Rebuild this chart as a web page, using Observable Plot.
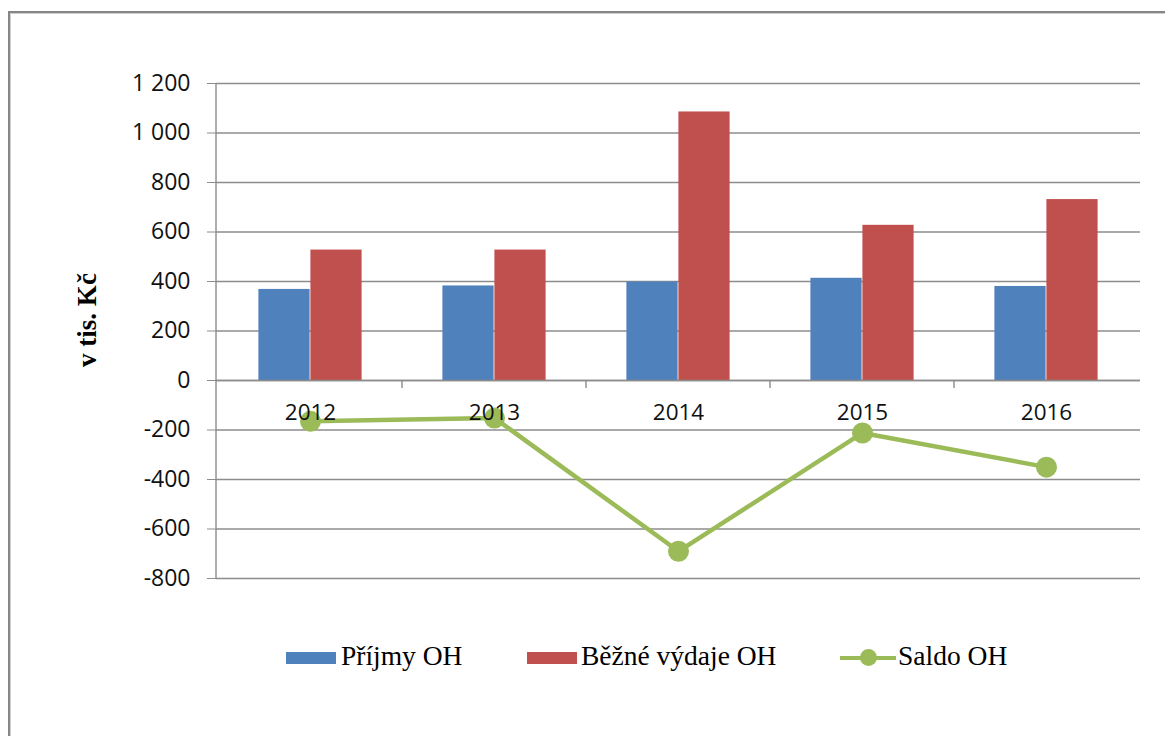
<!DOCTYPE html>
<html>
<head>
<meta charset="utf-8">
<script src="https://cdn.jsdelivr.net/npm/d3@7"></script>
<script src="https://cdn.jsdelivr.net/npm/@observablehq/plot@0.6"></script>
<style>
  html, body { margin: 0; padding: 0; background: #fff; overflow: hidden; }
  #wrap { position: relative; width: 1165px; height: 736px; }
  #frame { position: absolute; left: 8px; top: 11px; width: 1200px; height: 800px;
           border-left: 2px solid #868686; border-top: 2px solid #868686;
           box-shadow: inset 1px 1px 0 #d0d0d0; }
  #chart { position: absolute; left: 0; top: 0; }
  #ylabel { position: absolute; left: 87px; top: 320px; transform: translate(-50%, -50%) rotate(-90deg);
            font-family: "Liberation Serif", "Times New Roman", serif; font-weight: bold; font-size: 27px;
            white-space: nowrap; color: #000; }
  .leg { position: absolute; font-family: "Liberation Serif", "Times New Roman", serif; font-size: 27.5px;
         line-height: 27px; white-space: nowrap; color: #000; top: 642px; }
  .sw { position: absolute; top: 652px; width: 50px; height: 12px; }
</style>
</head>
<body>
<div id="wrap">
  <div id="frame"></div>
  <div id="chart"></div>
  <div id="ylabel">v tis. Kč</div>
  <div id="legend"></div>
</div>
<script>
const years = ["2012", "2013", "2014", "2015", "2016"];
const prijmy = [368, 382, 398, 413, 380];
const vydaje = [527, 527, 1085, 627, 731];
const saldo = [-165, -152, -690, -212, -350];
const yTicks = [-800, -600, -400, -200, 0, 200, 400, 600, 800, 1000, 1200];
const seriesNames = ["Příjmy OH", "Běžné výdaje OH", "Saldo OH"];
const colors = ["#4F81BD", "#C0504D", "#9BBB59"];

const rowsP = years.map((y, i) => ({year: y, value: prijmy[i]}));
const rowsV = years.map((y, i) => ({year: y, value: vydaje[i]}));
const rowsS = years.map((y, i) => ({year: y, value: saldo[i]}));

function fmt(d) {
  const a = Math.abs(d);
  const s = a >= 1000 ? Math.floor(a / 1000) + " " + String(a % 1000).padStart(3, "0") : String(a);
  return (d < 0 ? "-" : "") + s;
}

const W = 1165, H = 600;
const bandHalf = (W - 216 - 25) / years.length / 2;
const barW = 52;

const chart = Plot.plot({
  width: W,
  height: H,
  marginLeft: 216,
  marginRight: 25,
  marginTop: 83,
  marginBottom: 22,
  style: {fontFamily: "'Open Sans', sans-serif", fontSize: "23px", color: "#111", background: "transparent"},
  x: {type: "band", domain: years, padding: 0, axis: null},
  y: {domain: [-800, 1200], ticks: yTicks, axis: null},
  marks: [
    Plot.gridY(yTicks, {stroke: "#8c8c8c", strokeOpacity: 1, strokeWidth: 1.4}),
    Plot.barY(rowsP, {x: "year", y: "value", fill: colors[0], insetLeft: bandHalf - barW, insetRight: bandHalf}),
    Plot.barY(rowsV, {x: "year", y: "value", fill: colors[1], insetLeft: bandHalf, insetRight: bandHalf - barW}),
    Plot.ruleY([0], {stroke: "#8c8c8c", strokeWidth: 1.4}),
    Plot.line(rowsS, {x: "year", y: "value", stroke: colors[2], strokeWidth: 4.5}),
    Plot.dot(rowsS, {x: "year", y: "value", r: 10.5, fill: colors[2], stroke: "none"}),
    Plot.text(years, {x: d => d, y: () => 0, text: d => d, dy: 32.5, lineAnchor: "middle", textAnchor: "middle", fill: "#111", fontSize: 22.5}),
    Plot.axisY(yTicks, {tickFormat: fmt, tickSize: 9, tickPadding: 17, stroke: "#8c8c8c", fill: "#111", fontSize: 23, label: null})
  ]
});
document.getElementById("chart").appendChild(chart);

// axis line and category boundary ticks derived from the scales
const xs = chart.scale("x"), ys = chart.scale("y");
const svg = d3.select(chart);
const x0 = xs.range[0], y0 = ys.apply(0);
const g = svg.append("g").attr("stroke", "#8c8c8c").attr("stroke-width", 1.4);
g.append("line").attr("x1", x0).attr("x2", x0).attr("y1", ys.range[0]).attr("y2", ys.range[1]);
years.slice(1).forEach(y => {
  const bx = xs.apply(y);
  g.append("line").attr("x1", bx).attr("x2", bx).attr("y1", y0).attr("y2", y0 + 8);
});

// legend
const legend = document.getElementById("legend");
const legItems = [
  {sw: 286, tx: 341},
  {sw: 527, tx: 581},
  {sw: 840, tx: 898}
];
seriesNames.forEach((name, i) => {
  const it = legItems[i];
  if (i < 2) {
    const s = document.createElement("div");
    s.className = "sw"; s.style.left = it.sw + "px"; s.style.background = colors[i];
    legend.appendChild(s);
  } else {
    const l = document.createElement("div");
    l.style.cssText = `position:absolute;left:${it.sw}px;top:655.5px;width:56px;height:4.5px;background:${colors[i]}`;
    legend.appendChild(l);
    const c = document.createElement("div");
    c.style.cssText = `position:absolute;left:${it.sw + 28 - 8.5}px;top:649px;width:17px;height:17px;border-radius:50%;background:${colors[i]}`;
    legend.appendChild(c);
  }
  const t = document.createElement("div");
  t.className = "leg"; t.style.left = it.tx + "px"; t.textContent = name;
  legend.appendChild(t);
});
</script>
</body>
</html>
